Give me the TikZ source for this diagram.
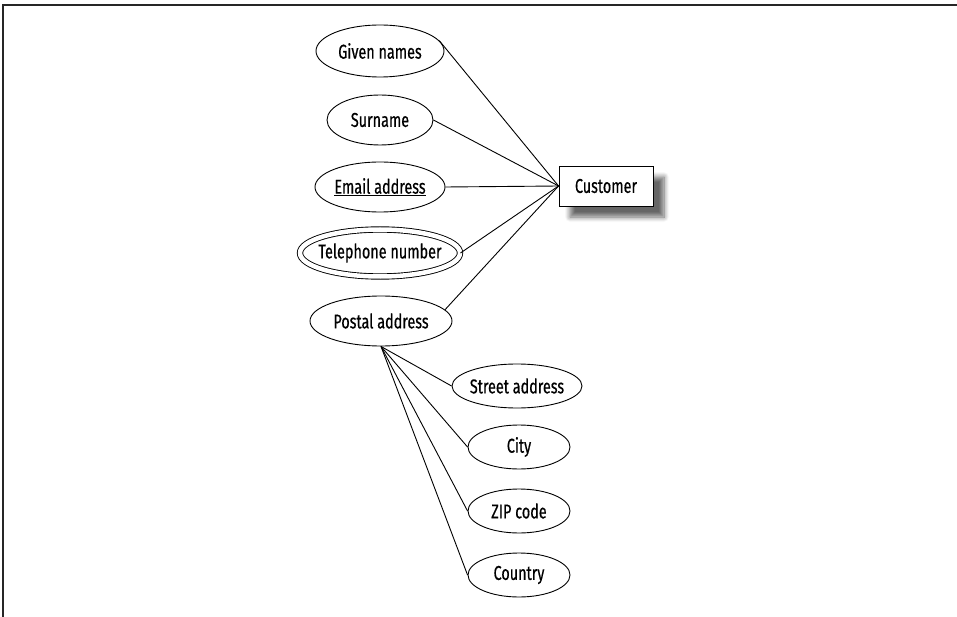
\documentclass[tikz,border=0pt]{standalone}
\usepackage{fontspec}
\setmainfont{Fira Sans}[FakeStretch=0.72,FakeBold=0.5]
\usetikzlibrary{shapes.geometric}
\usetikzlibrary{shadows.blur}

\tikzset{
  attr/.style={ellipse,draw=black,line width=0.9pt,inner sep=0pt,inner xsep=-20pt,
    minimum width=#1,minimum height=50pt},
  attr/.default=120pt,
  subattr/.style={attr=#1,minimum height=44pt},
  entity/.style={rectangle,draw=black,line width=0.9pt,fill=white,
    minimum width=94pt,minimum height=40pt,
    blur shadow={shadow xshift=11pt,shadow yshift=-11pt,shadow blur steps=8,
      shadow blur radius=5pt,shadow opacity=60}},
  link/.style={line width=0.9pt}
}

\begin{document}
\begin{tikzpicture}[x=1pt,y=-1pt,font=\fontsize{20}{22}\selectfont]
            \useasboundingbox (0,0) rectangle (957,617);
            % The frame
            \draw[line width=1.6pt,black!85] (3,617) -- (3,5) -- (957,5);

            % Place the entity
            \node[entity] (cust) at (606,186) {Customer};

            % Place the attributes
            \node[attr=128pt,minimum height=52pt] (given) at (380,51) {Given names};
            \node[attr=106pt] (sur) at (380,120) {Surname};
            \node[attr=130pt] (email) at (380,187) {\underline{Email address}};
            \node[attr=160pt,minimum height=47pt,double,double distance=4.5pt] (phone) at (380,253) {Telephone number};
            \node[attr=142pt] (postal) at (381,321) {Postal address};

            % Parts of the postal address
            \node[subattr=130pt] (street) at (517,386) {Street address};
            \node[subattr=102pt] (city) at (519,447) {City};
            \node[subattr=102pt] (zip) at (519,511) {ZIP code};
            \node[subattr=102pt] (country) at (519,575) {Country};

            % The lines!
            \draw[link] (given.10) -- (cust.west);
            \draw[link] (sur.east) -- (cust.west);
            \draw[link] (email.east) -- (cust.west);
            \draw[link] (phone.east) -- (cust.west);
            \draw[link] (postal.10) -- (cust.west);
            \draw[link] (postal.south) -- (street.west);
            \draw[link] (postal.south) -- (city.west);
            \draw[link] (postal.south) -- (zip.west);
            \draw[link] (postal.south) -- (country.west);
        \end{tikzpicture}
\end{document}
